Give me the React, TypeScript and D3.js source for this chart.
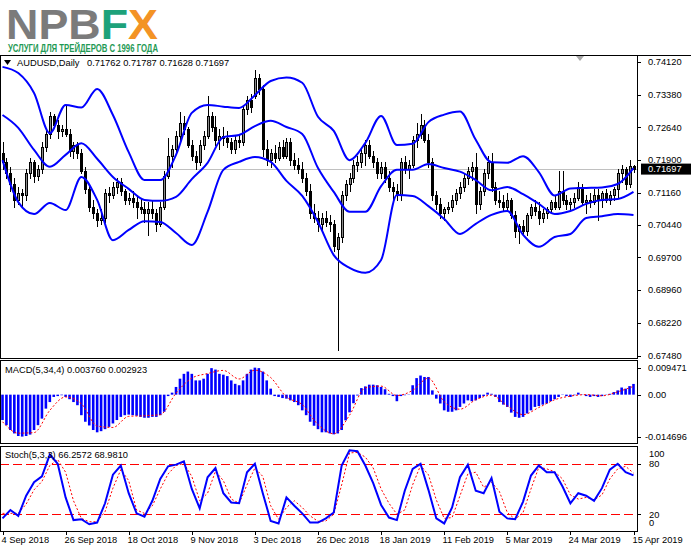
import React from 'react';
import * as d3 from 'd3';

const FONT = '"Liberation Sans", Arial, sans-serif';

const dateLabels = ['4 Sep 2018', '26 Sep 2018', '18 Oct 2018', '9 Nov 2018', '3 Dec 2018', '26 Dec 2018',
  '18 Jan 2019', '11 Feb 2019', '5 Mar 2019', '24 Mar 2019', '15 Apr 2019'];
const priceTicks = [0.7412, 0.7338, 0.7264, 0.719, 0.7116, 0.7044, 0.697, 0.6896, 0.6822, 0.6748];
const macdTicks = [0.009471, 0, -0.014696];
const macdTickLabels = ['0.009471', '0.00', '-0.014696'];
const stochTicks = [100, 80, 20, 0];
const stochLevels = [80, 20];
const lastQuote = [0.71762, 0.71787, 0.71628, 0.71697];

// daily candles, 4 Sep 2018 .. 15 Apr 2019
const opens = [
  0.7205, 0.7185, 0.7160, 0.7135, 0.7100, 0.7115, 0.7110, 0.7160, 0.7185, 0.7155, 0.7170, 0.7220, 0.7250, 0.7290, 0.7270, 0.7255,
  0.7260, 0.7250, 0.7210, 0.7225, 0.7205, 0.7165, 0.7125, 0.7085, 0.7070, 0.7055, 0.7060, 0.7115, 0.7110, 0.7130, 0.7140, 0.7120,
  0.7100, 0.7105, 0.7095, 0.7085, 0.7080, 0.7070, 0.7080, 0.7070, 0.7045, 0.7085, 0.7155, 0.7200, 0.7215, 0.7245, 0.7275, 0.7260,
  0.7225, 0.7200, 0.7185, 0.7225, 0.7245, 0.7290, 0.7265, 0.7235, 0.7245, 0.7240, 0.7230, 0.7215, 0.7235, 0.7230, 0.7305, 0.7325,
  0.7335, 0.7375, 0.7350, 0.7215, 0.7190, 0.7205, 0.7195, 0.7220, 0.7200, 0.7230, 0.7190, 0.7180, 0.7170, 0.7150, 0.7120, 0.7070,
  0.7060, 0.7045, 0.7060, 0.7050, 0.7045, 0.6990, 0.7015, 0.7110, 0.7135, 0.7150, 0.7180, 0.7185, 0.7205, 0.7225, 0.7200, 0.7185,
  0.7160, 0.7175, 0.7150, 0.7130, 0.7120, 0.7110, 0.7185, 0.7170, 0.7180, 0.7235, 0.7250, 0.7270, 0.7235, 0.7185, 0.7110, 0.7090,
  0.7070, 0.7080, 0.7085, 0.7100, 0.7115, 0.7130, 0.7150, 0.7165, 0.7175, 0.7090, 0.7120, 0.7160, 0.7185, 0.7130, 0.7100, 0.7095,
  0.7085, 0.7100, 0.7065, 0.7030, 0.7040, 0.7030, 0.7065, 0.7085, 0.7075, 0.7060, 0.7070, 0.7080, 0.7095, 0.7085, 0.7120, 0.7100,
  0.7090, 0.7095, 0.7105, 0.7130, 0.7095, 0.7100, 0.7095, 0.7110, 0.7100, 0.7115, 0.7100, 0.7110, 0.7125, 0.7160, 0.7170, 0.7135,
  0.71762,
];
const highs = [
  0.7230, 0.7195, 0.7175, 0.7150, 0.7130, 0.7125, 0.7170, 0.7195, 0.7190, 0.7180, 0.7230, 0.7260, 0.7300, 0.7295, 0.7280, 0.7270,
  0.7315, 0.7260, 0.7230, 0.7230, 0.7215, 0.7175, 0.7135, 0.7100, 0.7080, 0.7080, 0.7125, 0.7130, 0.7140, 0.7150, 0.7150, 0.7125,
  0.7115, 0.7120, 0.7110, 0.7105, 0.7095, 0.7095, 0.7100, 0.7080, 0.7095, 0.7165, 0.7240, 0.7225, 0.7255, 0.7300, 0.7290, 0.7265,
  0.7235, 0.7210, 0.7235, 0.7255, 0.7335, 0.7300, 0.7290, 0.7260, 0.7265, 0.7255, 0.7240, 0.7245, 0.7250, 0.7315, 0.7335, 0.7340,
  0.7394, 0.7385, 0.7360, 0.7235, 0.7215, 0.7225, 0.7230, 0.7235, 0.7240, 0.7240, 0.7205, 0.7195, 0.7185, 0.7160, 0.7135, 0.7090,
  0.7075, 0.7070, 0.7075, 0.7065, 0.7055, 0.7025, 0.7120, 0.7145, 0.7160, 0.7190, 0.7200, 0.7215, 0.7235, 0.7235, 0.7210, 0.7195,
  0.7185, 0.7185, 0.7165, 0.7140, 0.7135, 0.7195, 0.7200, 0.7190, 0.7245, 0.7275, 0.7295, 0.7280, 0.7250, 0.7195, 0.7120, 0.7105,
  0.7085, 0.7095, 0.7110, 0.7125, 0.7140, 0.7160, 0.7175, 0.7185, 0.7205, 0.7130, 0.7170, 0.7200, 0.7205, 0.7140, 0.7120, 0.7110,
  0.7115, 0.7105, 0.7075, 0.7045, 0.7055, 0.7070, 0.7090, 0.7100, 0.7095, 0.7080, 0.7085, 0.7100, 0.7110, 0.7165, 0.7165, 0.7110,
  0.7105, 0.7115, 0.7140, 0.7135, 0.7110, 0.7115, 0.7125, 0.7125, 0.7120, 0.7125, 0.7120, 0.7130, 0.7170, 0.7180, 0.7175, 0.7190,
  0.71787,
];
const lows = [
  0.7170, 0.7150, 0.7120, 0.7085, 0.7090, 0.7085, 0.7100, 0.7150, 0.7140, 0.7145, 0.7160, 0.7210, 0.7240, 0.7265, 0.7240, 0.7245,
  0.7245, 0.7200, 0.7195, 0.7195, 0.7160, 0.7115, 0.7075, 0.7060, 0.7040, 0.7045, 0.7050, 0.7095, 0.7105, 0.7115, 0.7110, 0.7090,
  0.7090, 0.7085, 0.7060, 0.7070, 0.7050, 0.7020, 0.7060, 0.7030, 0.7040, 0.7080, 0.7150, 0.7175, 0.7205, 0.7235, 0.7250, 0.7220,
  0.7190, 0.7170, 0.7180, 0.7215, 0.7240, 0.7255, 0.7225, 0.7215, 0.7225, 0.7220, 0.7205, 0.7205, 0.7220, 0.7225, 0.7295, 0.7300,
  0.7330, 0.7340, 0.7200, 0.7180, 0.7175, 0.7185, 0.7190, 0.7195, 0.7195, 0.7180, 0.7170, 0.7160, 0.7140, 0.7110, 0.7060, 0.7050,
  0.7030, 0.7035, 0.7040, 0.7030, 0.6985, 0.6760, 0.7005, 0.7100, 0.7120, 0.7140, 0.7165, 0.7175, 0.7180, 0.7195, 0.7175, 0.7150,
  0.7150, 0.7140, 0.7120, 0.7095, 0.7100, 0.7100, 0.7160, 0.7150, 0.7175, 0.7220, 0.7240, 0.7230, 0.7175, 0.7100, 0.7080, 0.7060,
  0.7055, 0.7070, 0.7075, 0.7090, 0.7105, 0.7120, 0.7135, 0.7145, 0.7070, 0.7080, 0.7110, 0.7150, 0.7120, 0.7090, 0.7085, 0.7075,
  0.7075, 0.7060, 0.7015, 0.7003, 0.7020, 0.7020, 0.7060, 0.7065, 0.7045, 0.7050, 0.7060, 0.7070, 0.7080, 0.7080, 0.7090, 0.7080,
  0.7075, 0.7085, 0.7100, 0.7090, 0.7070, 0.7085, 0.7090, 0.7055, 0.7085, 0.7095, 0.7090, 0.7100, 0.7105, 0.7140, 0.7125, 0.7130,
  0.71628,
];
const closes = [
  0.7185, 0.7160, 0.7135, 0.7100, 0.7115, 0.7110, 0.7160, 0.7185, 0.7155, 0.7170, 0.7220, 0.7250, 0.7290, 0.7270, 0.7255, 0.7260,
  0.7250, 0.7210, 0.7225, 0.7205, 0.7165, 0.7125, 0.7085, 0.7070, 0.7055, 0.7060, 0.7115, 0.7110, 0.7130, 0.7140, 0.7120, 0.7100,
  0.7105, 0.7095, 0.7085, 0.7080, 0.7070, 0.7080, 0.7070, 0.7045, 0.7085, 0.7155, 0.7200, 0.7215, 0.7245, 0.7275, 0.7260, 0.7225,
  0.7200, 0.7185, 0.7225, 0.7245, 0.7290, 0.7265, 0.7235, 0.7245, 0.7240, 0.7230, 0.7215, 0.7235, 0.7230, 0.7305, 0.7325, 0.7310,
  0.7375, 0.7350, 0.7215, 0.7190, 0.7205, 0.7195, 0.7220, 0.7200, 0.7230, 0.7190, 0.7180, 0.7170, 0.7150, 0.7120, 0.7070, 0.7060,
  0.7045, 0.7060, 0.7050, 0.7045, 0.6995, 0.7015, 0.7110, 0.7135, 0.7150, 0.7180, 0.7185, 0.7205, 0.7225, 0.7200, 0.7185, 0.7160,
  0.7175, 0.7150, 0.7130, 0.7120, 0.7110, 0.7185, 0.7170, 0.7180, 0.7235, 0.7250, 0.7270, 0.7235, 0.7185, 0.7110, 0.7090, 0.7070,
  0.7080, 0.7085, 0.7100, 0.7115, 0.7130, 0.7150, 0.7165, 0.7175, 0.7090, 0.7120, 0.7160, 0.7185, 0.7130, 0.7100, 0.7095, 0.7085,
  0.7100, 0.7065, 0.7030, 0.7040, 0.7030, 0.7065, 0.7085, 0.7075, 0.7060, 0.7070, 0.7080, 0.7095, 0.7085, 0.7120, 0.7100, 0.7090,
  0.7095, 0.7105, 0.7130, 0.7095, 0.7100, 0.7095, 0.7110, 0.7100, 0.7115, 0.7100, 0.7110, 0.7125, 0.7160, 0.7170, 0.7135, 0.7176,
  0.71697,
];

// Bollinger bands, read every 4th bar
const bbUpper = [0.7401, 0.7387, 0.7342, 0.7251, 0.7315, 0.7309, 0.7351, 0.7292, 0.7208, 0.7145, 0.7145, 0.7202, 0.7297, 0.7315,
  0.7311, 0.7308, 0.7337, 0.7369, 0.7377, 0.7365, 0.7288, 0.7256, 0.7190, 0.7229, 0.7290, 0.7224, 0.7227, 0.7276, 0.7293, 0.7300,
  0.7236, 0.7185, 0.7184, 0.7199, 0.7163, 0.7110, 0.7126, 0.7127, 0.7128, 0.7136, 0.7172];
const bbMiddle = [0.7292, 0.7263, 0.7213, 0.7175, 0.7202, 0.7228, 0.7193, 0.7152, 0.7125, 0.7100, 0.7098, 0.7107, 0.7147, 0.7184,
  0.7242, 0.7247, 0.7267, 0.7279, 0.7265, 0.7249, 0.7172, 0.7118, 0.7073, 0.7073, 0.7131, 0.7168, 0.7168, 0.7181, 0.7172, 0.7164,
  0.7145, 0.7122, 0.7129, 0.7113, 0.7091, 0.7068, 0.7075, 0.7091, 0.7100, 0.7102, 0.7118];
const bbLower = [0.7190, 0.7095, 0.7068, 0.7093, 0.7077, 0.7152, 0.7100, 0.7009, 0.7032, 0.7052, 0.7050, 0.7025, 0.6998, 0.7073,
  0.7168, 0.7186, 0.7197, 0.7186, 0.7143, 0.7109, 0.7050, 0.6975, 0.6946, 0.6935, 0.6964, 0.7111, 0.7109, 0.7086, 0.7057, 0.7023,
  0.7046, 0.7066, 0.7075, 0.7021, 0.6994, 0.7016, 0.7023, 0.7059, 0.7063, 0.7068, 0.7066];

// MACD(5,34,4) main, one per bar
const macdMain = [
  -0.0089, -0.0107, -0.0124, -0.0136, -0.0145, -0.0147, -0.0145, -0.0140, -0.0124, -0.0107, -0.0084, -0.0049, -0.0026, -0.0008, -0.0005, -0.0002,
  -0.0008, -0.0016, -0.0026, -0.0037, -0.0072, -0.0095, -0.0108, -0.0124, -0.0132, -0.0128, -0.0121, -0.0113, -0.0101, -0.0089, -0.0078, -0.0072,
  -0.0070, -0.0072, -0.0074, -0.0078, -0.0081, -0.0081, -0.0078, -0.0078, -0.0072, -0.0060, -0.0005, 0.0007, 0.0027, 0.0056, 0.0073, 0.0081,
  0.0073, 0.0050, 0.0050, 0.0056, 0.0073, 0.0093, 0.0088, 0.0073, 0.0070, 0.0065, 0.0050, 0.0038, 0.0033, 0.0050, 0.0073, 0.0088,
  0.009471, 0.0093, 0.0081, 0.0050, 0.0021, -0.0005, -0.0008, -0.0012, -0.0014, -0.0020, -0.0026, -0.0037, -0.0055, -0.0072, -0.0095, -0.0109,
  -0.0121, -0.0132, -0.0132, -0.0136, -0.0139, -0.0136, -0.0124, -0.0090, -0.0062, -0.0030, -0.0003, 0.0023, 0.0029, 0.0035, 0.0035, 0.0033,
  0.0027, 0.0019, 0.0003, -0.0005, -0.0023, -0.0005, -0.0002, 0.0001, 0.0033, 0.0058, 0.0067, 0.0062, 0.0062, 0.0015, -0.0014, -0.0031,
  -0.0055, -0.0060, -0.0060, -0.0055, -0.0043, -0.0031, -0.0020, -0.0023, -0.0020, -0.0012, -0.0005, 0.0007, 0.0003, -0.0008, -0.0026, -0.0035,
  -0.0043, -0.0063, -0.0078, -0.0081, -0.0078, -0.0066, -0.0055, -0.0043, -0.0040, -0.0035, -0.0031, -0.0023, -0.0016, -0.0008, 0.0001, -0.0005,
  -0.0008, -0.0002, 0.0007, 0.0001, -0.0005, -0.0008, -0.0005, -0.0008, -0.0005, 0.0001, 0.0003, 0.0009, 0.0015, 0.0025, 0.0021, 0.0030,
  0.00376,
];
// MACD signal, read every 4th bar
const macdSignal = [-0.0095, -0.0135, -0.0133, -0.0055, -0.0008, -0.0032, -0.0110, -0.0115, -0.0076, -0.0074, -0.0070, 0.0005,
  0.0058, 0.0074, 0.0085, 0.0055, 0.0086, 0.0060, -0.0008, -0.0035, -0.0105, -0.0137, -0.0072, 0.0024, 0.0030, -0.0003, 0.0015,
  0.0058, -0.0025, -0.0051, -0.0018, -0.0002, -0.0040, -0.0070, -0.0045, -0.0018, -0.0005, 0.0000, -0.0004, 0.0010, 0.002923];

// Stochastic(5,3,3), read every 2nd bar
const stochMain = [15, 25, 18, 42, 58, 65, 91, 80, 40, 13, 14, 8, 10, 33, 67, 78, 45, 21, 17, 36, 62, 77, 79, 83, 50, 27, 64,
  75, 45, 34, 33, 70, 80, 45, 12, 9, 40, 30, 21, 10, 10, 15, 22, 78, 96, 95, 78, 57, 31, 16, 13, 48, 74, 80, 49, 15, 9, 28, 64,
  79, 48, 45, 63, 23, 15, 14, 35, 66, 78, 70, 70, 53, 33, 45, 42, 36, 51, 73, 80, 70, 66.2572];
const stochSignal = [21, 21, 21, 32, 49, 59, 78, 85, 70, 36, 15, 11, 11, 23, 51, 73, 60, 25, 21, 30, 50, 68, 78, 80.5, 65, 36,
  45, 71, 60, 38, 33, 55, 75, 65, 30, 14, 28, 36, 28, 18, 11.5, 12, 20, 55, 93, 93.5, 88, 75, 50, 33, 20, 25, 55, 78, 67, 37,
  15, 16, 42, 68, 70, 52, 58, 47, 22, 14, 22, 50, 76, 74, 70.6, 62, 43, 38, 40, 37, 43, 62, 74, 77, 68.981];

const W = 691;
const H = 549;
const PLOT_R = 637;
const MAIN = { top: 55, bottom: 358 };
const MACD = { top: 360, bottom: 443 };
const STOCH = { top: 446, bottom: 531 };

const App: React.FC = () => {
  const n = closes.length;
  const x = d3.scaleLinear().domain([0, n - 1]).range([2.5, 633.5]);
  const yP = d3.scaleLinear().domain([0.6748, 0.7412]).range([355.5, 62]);
  const yM = d3.scaleLinear().domain([-0.0166, 0.0118]).range([442, 361]);
  const yS = d3.scaleLinear().domain([0, 100]).range([531, 447]);

  const band = (step: number, y: (v: number) => number, curve: d3.CurveFactory) =>
    d3.line<number>().x((_, i) => x(i * step)).y(v => y(v)).curve(curve);

  const bbLine = band(4, yP, d3.curveMonotoneX);
  const sigLine = band(4, yM, d3.curveMonotoneX);
  const stLine = band(2, yS, d3.curveLinear);

  const px = (i: number) => Math.round(x(i));
  const last = lastQuote[3];

  const txt = { fontFamily: FONT, fontSize: 9.3, fill: '#000' } as const;

  return (
    <svg width={W} height={H} style={{ position: 'absolute', left: 0, top: 0, background: '#fff' }}>
      <defs>
        <clipPath id="cMain"><rect x={1} y={MAIN.top + 1} width={PLOT_R - 1} height={MAIN.bottom - MAIN.top - 1} /></clipPath>
        <clipPath id="cMacd"><rect x={1} y={MACD.top + 1} width={PLOT_R - 1} height={MACD.bottom - MACD.top - 1} /></clipPath>
        <clipPath id="cStoch"><rect x={1} y={STOCH.top + 1} width={PLOT_R - 1} height={STOCH.bottom - STOCH.top - 1} /></clipPath>
      </defs>
      <rect width={W} height={H} fill="#fff" />

      {/* logo */}
      <text x={6} y={38.5} fontFamily={FONT} fontWeight="bold" fontSize={42} textLength={152} lengthAdjust="spacingAndGlyphs">
        <tspan fill="#7b7b7b">NPB</tspan>
        <tspan fill="#1da27a">F</tspan>
        <tspan fill="#f39325">X</tspan>
      </text>
      <text x={8} y={51.5} fontFamily={FONT} fontWeight="bold" fontSize={10} fill="#1f9a55" textLength={150} lengthAdjust="spacingAndGlyphs">УСЛУГИ ДЛЯ ТРЕЙДЕРОВ С 1996 ГОДА</text>

      {/* frames */}
      <g fill="none" stroke="#000" strokeWidth={1} shapeRendering="crispEdges">
        <line x1={0} x2={W} y1={MAIN.top + 0.5} y2={MAIN.top + 0.5} />
        <rect x={0.5} y={MAIN.top + 0.5} width={PLOT_R} height={MAIN.bottom - MAIN.top} />
        <rect x={0.5} y={MACD.top + 0.5} width={PLOT_R} height={MACD.bottom - MACD.top} />
        <rect x={0.5} y={STOCH.top + 0.5} width={PLOT_R} height={STOCH.bottom - STOCH.top} />
      </g>

      {/* main panel */}
      <g clipPath="url(#cMain)">
        <line x1={0} x2={PLOT_R} y1={Math.round(yP(last)) + 0.5} y2={Math.round(yP(last)) + 0.5} stroke="#c0c0c0" />
        {closes.map((c, i) => {
          const o = opens[i];
          const cx = px(i);
          const top = Math.round(yP(Math.max(o, c))) + 0.5;
          const bot = Math.round(yP(Math.min(o, c))) + 0.5;
          const bull = c > o;
          return (
            <g key={i} shapeRendering="crispEdges">
              <line x1={cx + 0.5} x2={cx + 0.5} y1={Math.round(yP(highs[i]))} y2={Math.round(yP(lows[i])) + 1} stroke="#000" />
              <rect x={cx - 0.5} y={top} width={2} height={Math.max(bot - top, 0.01)} fill={bull ? '#8a8a8a' : '#000'} stroke="#000" />
            </g>
          );
        })}
        <g fill="none" stroke="#0000ff" strokeWidth={2}>
          <path d={bbLine(bbUpper) || ''} />
          <path d={bbLine(bbMiddle) || ''} />
          <path d={bbLine(bbLower) || ''} />
        </g>
      </g>
      <polygon points="576,56 584,56 580,61" fill="#a8a8a8" />
      <path d="M4,60 L11,60 L7.5,65 Z" fill="#000" />
      <text x={17} y={66} {...txt}>AUDUSD,Daily</text>
      <text x={87} y={66} {...txt}>{lastQuote.map(v => v.toFixed(5)).join(' ')}</text>

      {/* MACD panel */}
      <g clipPath="url(#cMacd)">
        {macdMain.map((v, i) => {
          const y0 = yM(0);
          const y1 = yM(v);
          return <rect key={i} x={x(i) - 1.3} y={Math.min(y0, y1)} width={2.6} height={Math.abs(y1 - y0)} fill="#0000ff" />;
        })}
        <path d={sigLine(macdSignal) || ''} fill="none" stroke="#ff0000" strokeWidth={1} strokeDasharray="2 2" />
      </g>
      <text x={5} y={373} {...txt}>MACD(5,34,4) 0.003760 0.002923</text>

      {/* Stochastic panel */}
      <g clipPath="url(#cStoch)">
        {stochLevels.map(l => (
          <line key={l} x1={0} x2={PLOT_R} y1={Math.round(yS(l)) + 0.5} y2={Math.round(yS(l)) + 0.5} stroke="#ff0000" strokeDasharray="9 4" />
        ))}
        <path d={stLine(stochSignal) || ''} fill="none" stroke="#ff0000" strokeWidth={1} strokeDasharray="2 2" />
        <path d={stLine(stochMain) || ''} fill="none" stroke="#0000ff" strokeWidth={2} />
      </g>
      <text x={5} y={458} {...txt}>Stoch(5,3,3) 66.2572 68.9810</text>

      {/* right axis */}
      <g shapeRendering="crispEdges" stroke="#000">
        {priceTicks.map(t => (
          <line key={t} x1={PLOT_R} x2={PLOT_R + 4} y1={Math.round(yP(t)) + 0.5} y2={Math.round(yP(t)) + 0.5} />
        ))}
        {macdTicks.map(t => (
          <line key={t} x1={PLOT_R} x2={PLOT_R + 4} y1={Math.round(yM(t)) + 0.5} y2={Math.round(yM(t)) + 0.5} />
        ))}
        {stochLevels.map(t => (
          <line key={t} x1={PLOT_R} x2={PLOT_R + 4} y1={Math.round(yS(t)) + 0.5} y2={Math.round(yS(t)) + 0.5} />
        ))}
      </g>
      {priceTicks.map(t => (
        <text key={t} x={648} y={yP(t) + 3.3} {...txt}>{t.toFixed(5)}</text>
      ))}
      <rect x={641} y={yP(last) - 5.5} width={50} height={11} fill="#000" />
      <text x={648} y={yP(last) + 3.3} {...txt} fill="#fff">{last.toFixed(5)}</text>
      {macdTicks.map((t, i) => (
        <text key={t} x={t < 0 ? 645 : 648} y={yM(t) + 3.3} {...txt}>{macdTickLabels[i]}</text>
      ))}
      {stochTicks.map(t => {
        const yy = t === 100 ? yS(t) + 6.5 : t === 0 ? yS(t) - 8 : yS(t);
        return <text key={t} x={649} y={yy + 3.3} {...txt}>{t}</text>;
      })}

      {/* time axis */}
      {dateLabels.map((d, k) => {
        const tx = px(k * 16);
        return (
          <g key={d}>
            <line x1={tx + 0.5} x2={tx + 0.5} y1={STOCH.bottom} y2={STOCH.bottom + 4} stroke="#000" shapeRendering="crispEdges" />
            <text x={tx - 1.5} y={543} {...txt}>{d}</text>
          </g>
        );
      })}
    </svg>
  );
};

export default App;
